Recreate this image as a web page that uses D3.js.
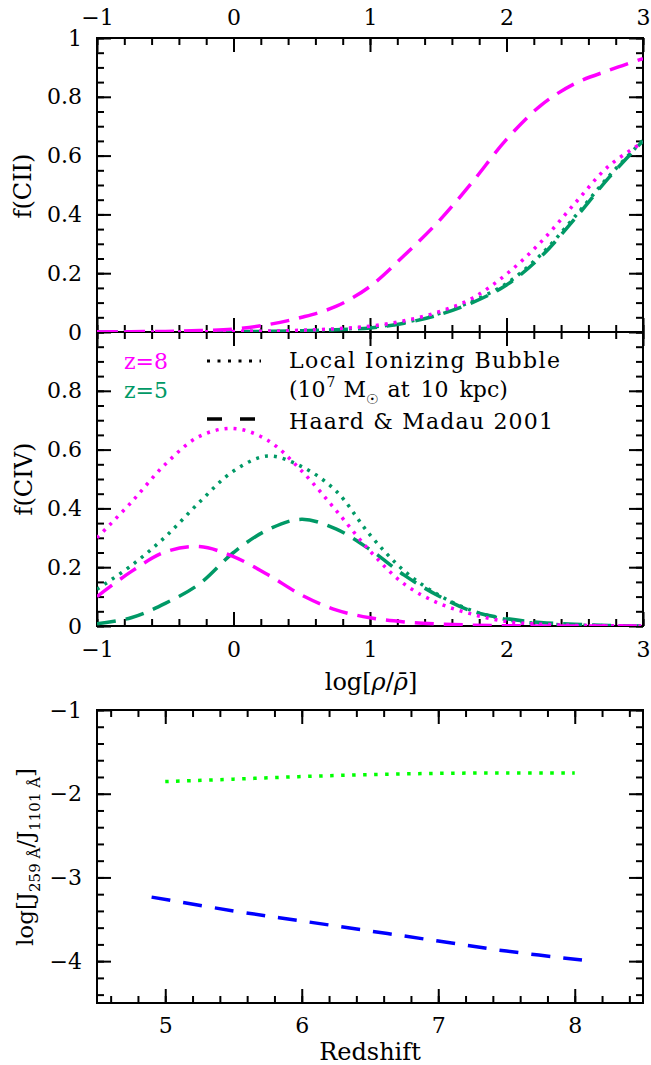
<!DOCTYPE html>
<html><head><meta charset="utf-8">
<script src="https://cdn.jsdelivr.net/npm/d3@7"></script>
<style>
body{margin:0;background:#fff;}
svg text{font-family:"DejaVu Serif","Liberation Serif",serif;fill:#000;}
</style></head>
<body><svg id="c" width="651" height="1065"></svg>
<script>
// ---- data ----
const xGrid = [-1,-0.75,-0.5,-0.25,0,0.25,0.5,0.75,1,1.25,1.5,1.75,2,2.25,2.5,2.75,3];
// f(CII)
const cii_z8_hm     = [0,0.001,0.002,0.005,0.01,0.025,0.05,0.087,0.155,0.26,0.375,0.51,0.655,0.77,0.845,0.89,0.93];
const cii_z8_bubble = [0,0,0,0.001,0.002,0.003,0.006,0.011,0.02,0.038,0.068,0.115,0.197,0.305,0.437,0.565,0.645];
const cii_z5_hm     = [0,0,0,0,0.001,0.002,0.004,0.008,0.014,0.03,0.058,0.1,0.16,0.255,0.385,0.525,0.65];
const cii_z5_bubble = [0,0,0,0,0.001,0.002,0.005,0.009,0.016,0.032,0.062,0.105,0.165,0.262,0.392,0.53,0.652];
// f(CIV)
const civ_z8_bubble = [0.30,0.42,0.55,0.645,0.672,0.632,0.527,0.394,0.255,0.143,0.078,0.04,0.015,0.006,0.002,0.001,0];
const civ_z5_bubble = [0.125,0.205,0.303,0.421,0.527,0.578,0.542,0.46,0.31,0.188,0.106,0.052,0.022,0.008,0.003,0.001,0];
const civ_z8_hm     = [0.10,0.185,0.252,0.27,0.236,0.175,0.105,0.055,0.028,0.014,0.007,0.003,0.001,0,0,0,0];
const civ_z5_hm     = [0.008,0.028,0.077,0.143,0.25,0.327,0.363,0.33,0.26,0.173,0.103,0.05,0.025,0.012,0.006,0.002,0];
// bottom panel
const zGreen = [5,5.5,6,6.5,7,7.5,8];
const jGreen = [-1.855,-1.826,-1.795,-1.772,-1.757,-1.752,-1.752];
const zBlue  = [4.9,5.5,6,6.5,7,7.5,8.07];
const jBlue  = [-3.235,-3.40,-3.52,-3.64,-3.76,-3.88,-3.99];
// ticks
const fTicks = [0,0.2,0.4,0.6,0.8,1];
const rhoTicks = [-1,0,1,2,3];
const zTicks = [5,6,7,8];
const jTicks = [-1,-2,-3,-4];

const MAG = "#ff00ff", GRN = "#009966";

// ---- layout ----
const svg = d3.select("#c");
const L = 97, R = 643;
const xR = d3.scaleLinear().domain([-1,3]).range([L,R]);
const yTop = d3.scaleLinear().domain([0,1]).range([332,38]);
const yMid = d3.scaleLinear().domain([0,1]).range([626,332]);
const xZ = d3.scaleLinear().domain([4.5,8.5]).range([L,R]);
const yJ = d3.scaleLinear().domain([-4.5,-1]).range([1003,710]);
const TF = 22;

function range(a,b,s){const o=[];for(let v=a;v<=b+1e-9;v+=s)o.push(+v.toFixed(4));return o;}

function axes(x,y,opts){
  const [y0,y1]=y.range();
  const [x0,x1]=x.range();
  const g=svg.append("g");
  const draw=(gen,scale,tr,vals,size,fmt,pad)=>{
    const a=gen(scale).tickValues(vals).tickSize(-size).tickPadding(pad||0);
    a.tickFormat(fmt||(()=>""));
    const gg=g.append("g").attr("transform",tr).call(a);
    gg.select(".domain").remove();
    gg.selectAll("line").attr("stroke","#000").attr("stroke-width",2);
    gg.selectAll("text").attr("font-size",TF).attr("fill","#000").style("font-family",'"DejaVu Serif",serif');
    return gg;
  };
  const fmtX=opts.fmtX, fmtY=opts.fmtY;
  draw(d3.axisBottom,x,`translate(0,${y0})`,opts.xMinor,7);
  draw(d3.axisBottom,x,`translate(0,${y0})`,opts.xMajor,14,opts.bottomLabels?fmtX:null,opts.bpad);
  draw(d3.axisTop,x,`translate(0,${y1})`,opts.xMinor,7);
  draw(d3.axisTop,x,`translate(0,${y1})`,opts.xMajor,14,opts.topLabels?fmtX:null,13);
  draw(d3.axisLeft,y,`translate(${x0},0)`,opts.yMinor,7);
  draw(d3.axisLeft,y,`translate(${x0},0)`,opts.yMajor,14,fmtY,15);
  draw(d3.axisRight,y,`translate(${x1},0)`,opts.yMinor,7);
  draw(d3.axisRight,y,`translate(${x1},0)`,opts.yMajor,14,null);
  g.append("rect").attr("x",x0).attr("y",y1).attr("width",x1-x0).attr("height",y0-y1)
    .attr("fill","none").attr("stroke","#000").attr("stroke-width",2);
}

const fmtR = d=>d3.format("d")(d).replace("-","\u2212");
const fmtF = d=>d===0?"0":(d===1?"1":d3.format(".1f")(d));
axes(xR,yTop,{xMajor:rhoTicks,xMinor:range(-1,3,0.2),yMajor:fTicks,yMinor:range(0,1,0.05),
  fmtX:fmtR,fmtY:fmtF,topLabels:true,bottomLabels:false});
axes(xR,yMid,{xMajor:rhoTicks,xMinor:range(-1,3,0.2),yMajor:fTicks.filter(d=>d<1),yMinor:range(0,1,0.05),
  fmtX:fmtR,fmtY:fmtF,topLabels:false,bottomLabels:true,bpad:15});
axes(xZ,yJ,{xMajor:zTicks,xMinor:range(4.6,8.4,0.2),yMajor:jTicks,yMinor:range(-4.4,-1,0.2),
  fmtX:d=>String(d),fmtY:fmtR,topLabels:false,bottomLabels:true,bpad:14});

const defs=svg.append("defs");
[["cTop",38,332],["cMid",332,626],["cBot",710,1003]].forEach(([id,a,b])=>{
  defs.append("clipPath").attr("id",id).append("rect").attr("x",L).attr("y",a).attr("width",R-L).attr("height",b-a);
});

function curve(xs,ys,xs_,ys_,color,dash,clip,w){
  const line=d3.line().x(d=>xs_(d[0])).y(d=>ys_(d[1])).curve(d3.curveCatmullRom.alpha(0.5));
  svg.append("path").datum(xs.map((x,i)=>[x,ys[i]]))
    .attr("d",line).attr("fill","none").attr("stroke",color).attr("stroke-width",w||3.5)
    .attr("stroke-dasharray",dash).attr("clip-path",`url(#${clip})`);
}
const DOT="3,6", DASH="19,10";
curve(xGrid,cii_z5_hm,xR,yTop,GRN,DASH,"cTop");
curve(xGrid,cii_z5_bubble,xR,yTop,GRN,DOT,"cTop");
curve(xGrid,cii_z8_bubble,xR,yTop,MAG,DOT,"cTop");
curve(xGrid,cii_z8_hm,xR,yTop,MAG,DASH,"cTop");

curve(xGrid,civ_z5_hm,xR,yMid,GRN,DASH,"cMid");
curve(xGrid,civ_z5_bubble,xR,yMid,GRN,DOT,"cMid");
curve(xGrid,civ_z8_bubble,xR,yMid,MAG,DOT,"cMid");
curve(xGrid,civ_z8_hm,xR,yMid,MAG,DASH,"cMid");

curve(zGreen,jGreen,xZ,yJ,"#00ff00","3.5,7.5","cBot");
curve(zBlue,jBlue,xZ,yJ,"#0000ff","19,13","cBot");

// legend
const LF = 22;
svg.append("text").attr("x",124).attr("y",369).attr("font-size",LF).style("fill",MAG).text("z=8");
svg.append("text").attr("x",124).attr("y",398).attr("font-size",LF).style("fill",GRN).text("z=5");
svg.append("line").attr("x1",207).attr("x2",261).attr("y1",361).attr("y2",361)
  .attr("stroke","#000").attr("stroke-width",3).attr("stroke-dasharray","3,7.5");
svg.append("line").attr("x1",207).attr("x2",257).attr("y1",419).attr("y2",419)
  .attr("stroke","#000").attr("stroke-width",3.5).attr("stroke-dasharray","15,18");
svg.append("text").attr("x",289).attr("y",368).attr("font-size",LF)
  .attr("textLength",271).attr("lengthAdjust","spacing").text("Local Ionizing Bubble");
const t2=svg.append("text").attr("x",289).attr("y",397).attr("font-size",LF);
t2.append("tspan").text("(10");
t2.append("tspan").attr("font-size",14).attr("dy",-10).attr("dx",1).text("7");
t2.append("tspan").attr("dy",10).attr("dx",8).text("M");
t2.append("tspan").attr("font-size",14).attr("dy",7).style("font-family","DejaVu Sans").text("\u2609");
t2.append("tspan").attr("dy",-7).attr("dx",9).attr("word-spacing",4).text("at 10 kpc)");
svg.append("text").attr("x",289).attr("y",429).attr("font-size",LF)
  .attr("textLength",264).attr("lengthAdjust","spacing").text("Haard & Madau 2001");

// axis labels
svg.append("text").attr("transform","translate(31,186) rotate(-90)").attr("text-anchor","middle")
  .attr("font-size",24).text("f(CII)");
svg.append("text").attr("transform","translate(32,479) rotate(-90)").attr("text-anchor","middle")
  .attr("font-size",24).text("f(CIV)");
const xl=svg.append("text").attr("x",371).attr("y",690).attr("text-anchor","middle").attr("font-size",24);
xl.append("tspan").text("log[");
xl.append("tspan").style("font-style","italic").text("\u03C1");
xl.append("tspan").text("/");
xl.append("tspan").style("font-style","italic").text("\u03C1\u0304");
xl.append("tspan").text("]");
svg.append("text").attr("x",370).attr("y",1060).attr("text-anchor","middle").attr("font-size",24).text("Redshift");
const yl=svg.append("text").attr("transform","translate(33,857) rotate(-90)").attr("text-anchor","middle").attr("font-size",23);
yl.append("tspan").text("log[J");
yl.append("tspan").attr("font-size",15).attr("dy",7).text("259 \u00C5");
yl.append("tspan").attr("dy",-7).text("/J");
yl.append("tspan").attr("font-size",15).attr("dy",7).text("1101 \u00C5");
yl.append("tspan").attr("dy",-7).text("]");
</script></body></html>
